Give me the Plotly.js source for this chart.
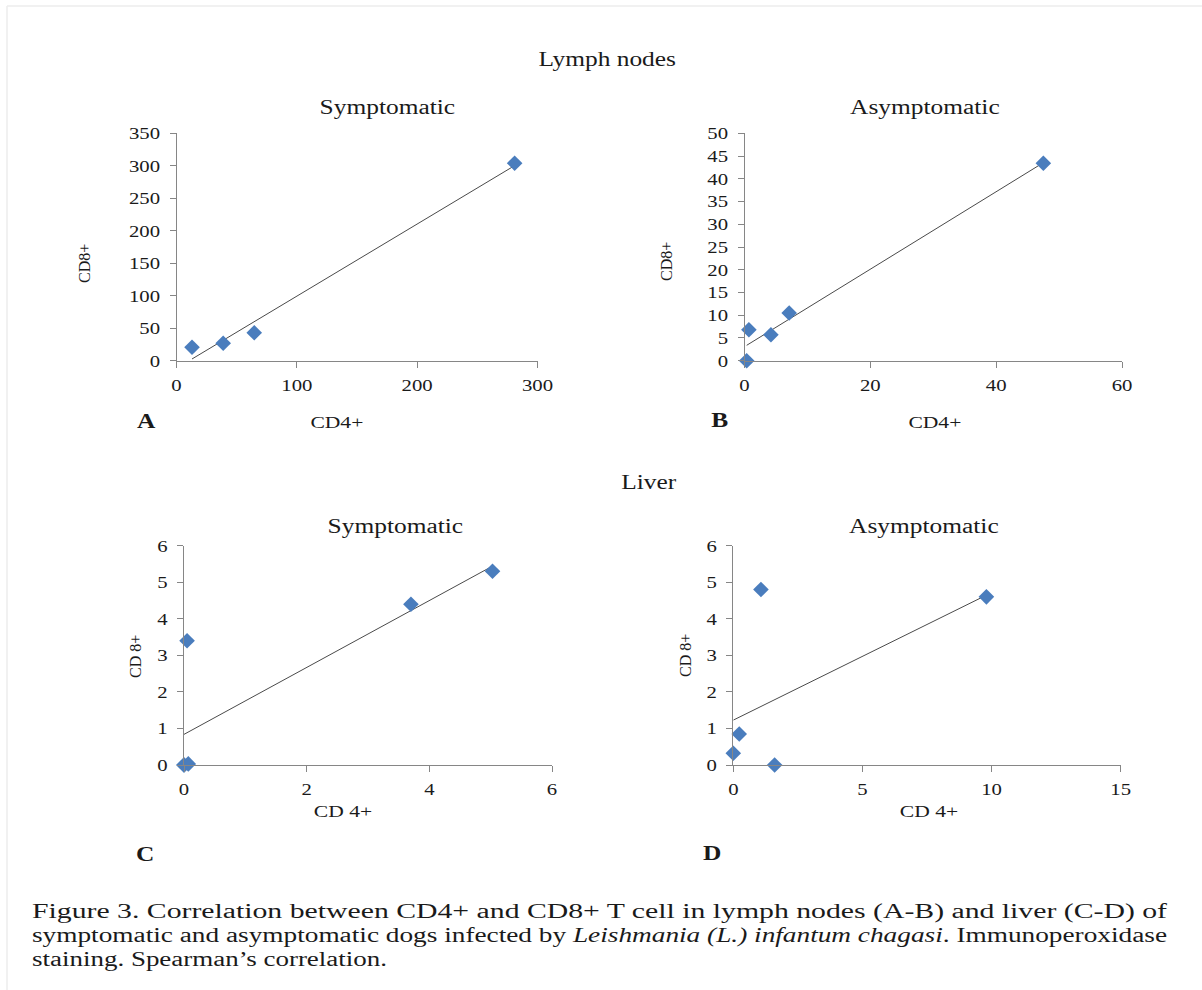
<!DOCTYPE html>
<html>
<head>
<meta charset="utf-8">
<script src="https://cdn.plot.ly/plotly-3.0.1.min.js"></script>
<style>
  html, body { margin: 0; padding: 0; background: #ffffff; }
  #chart { width: 1202px; height: 990px; }
</style>
</head>
<body>
<div id="chart"></div>
<script>
// ---------------- data ----------------
const lnSymCD4 = [12.9, 38.8, 64.6, 281];
const lnSymCD8 = [20.6, 26.8, 43, 304];
const lnAsyCD4 = [0.35, 0.7, 4.2, 7.1, 47.5];
const lnAsyCD8 = [0, 6.8, 5.7, 10.5, 43.4];
const lvSymCD4 = [0, 0, 0.07, 0.05, 3.7, 5.03];
const lvSymCD8 = [0, 0, 0.03, 3.4, 4.4, 5.3];
const lvAsyCD4 = [0, 0.23, 1.07, 1.6, 9.8];
const lvAsyCD8 = [0.32, 0.85, 4.8, 0, 4.6];

const sectionTitles = ["Lymph nodes", "Liver"];
const panelTitles = ["Symptomatic", "Asymptomatic", "Symptomatic", "Asymptomatic"];
const panelLetters = ["A", "B", "C", "D"];
const xTitles = ["CD4+", "CD4+", "CD 4+", "CD 4+"];
const yTitles = ["CD8+", "CD8+", "CD 8+", "CD 8+"];
const xRanges = [[0, 300], [0, 60], [0, 6], [0, 15]];
const xSteps = [100, 20, 2, 5];
const yRanges = [[0, 350], [0, 50], [0, 6], [0, 6]];
const ySteps = [50, 5, 1, 1];
const captionLines = [
  "Figure 3. Correlation between CD4+ and CD8+ T cell in lymph nodes (A-B) and liver (C-D) of",
  "symptomatic and asymptomatic dogs infected by <i>Leishmania (L.) infantum chagasi</i>. Immunoperoxidase",
  "staining. Spearman\u2019s correlation."
];

const panelsX = [lnSymCD4, lnAsyCD4, lvSymCD4, lvAsyCD4];
const panelsY = [lnSymCD8, lnAsyCD8, lvSymCD8, lvAsyCD8];

// ---------------- helpers ----------------
const W = 1202, H = 990;
const px = v => v / W;
const py = v => 1 - v / H;
const FONT = '"Liberation Serif", "Times New Roman", Times, serif';
const MARK = '#4A7DBD';
const AXC = '#868686';

function linFit(xs, ys) {
  const n = xs.length;
  const mx = xs.reduce((a, b) => a + b, 0) / n;
  const my = ys.reduce((a, b) => a + b, 0) / n;
  let sxy = 0, sxx = 0;
  for (let i = 0; i < n; i++) { sxy += (xs[i] - mx) * (ys[i] - my); sxx += (xs[i] - mx) ** 2; }
  const b = sxy / sxx, a = my - b * mx;
  const x0 = Math.min(...xs), x1 = Math.max(...xs);
  return { x: [x0, x1], y: [a + b * x0, a + b * x1] };
}

// plot areas (pixels)
const boxes = [
  { l: 176.5, r: 537.5, t: 133.3, b: 360.7 },
  { l: 744.5, r: 1122, t: 133.3, b: 360.7 },
  { l: 184, r: 552, t: 545.7, b: 765 },
  { l: 733.3, r: 1120.7, t: 545.7, b: 765 }
];

const traces = [];
const layout = {
  width: W, height: H,
  margin: { l: 0, r: 0, t: 0, b: 0 },
  paper_bgcolor: '#ffffff', plot_bgcolor: 'rgba(0,0,0,0)',
  showlegend: false,
  font: { family: FONT, color: '#1a1a1a' },
  annotations: [],
  shapes: [
    { type: 'line', xref: 'paper', yref: 'paper', x0: px(7), x1: 1, y0: py(6), y1: py(6), line: { color: '#ececec', width: 1.5 } },
    { type: 'line', xref: 'paper', yref: 'paper', x0: px(7), x1: px(7), y0: py(6), y1: 0, line: { color: '#ececec', width: 1.5 } }
  ]
};

panelsX.forEach((xs, i) => {
  const k = i === 0 ? '' : String(i + 1);
  const xa = 'x' + k, ya = 'y' + k;
  const fit = linFit(xs, panelsY[i]);
  traces.push({
    type: 'scatter', mode: 'lines', x: fit.x, y: fit.y, xaxis: xa, yaxis: ya,
    line: { color: '#4a4a4a', width: 1 }, cliponaxis: false, hoverinfo: 'skip'
  });
  traces.push({
    type: 'scatter', mode: 'markers', x: xs, y: panelsY[i], xaxis: xa, yaxis: ya,
    marker: { symbol: 'diamond', size: 12, color: MARK, line: { width: 0 } }, cliponaxis: false
  });
  const bx = boxes[i];
  const common = {
    showline: true, linecolor: AXC, linewidth: 1,
    ticks: 'outside', ticklen: 6, tickcolor: AXC, tickwidth: 1,
    showgrid: false, zeroline: false, fixedrange: true,
    tickfont: { family: FONT, size: 17, color: '#1a1a1a' }
  };
  layout['xaxis' + k] = Object.assign({}, common, {
    domain: [px(bx.l), px(bx.r)], anchor: ya, range: xRanges[i], dtick: xSteps[i], tick0: 0,
    ticklabelstandoff: 3
  });
  layout['yaxis' + k] = Object.assign({}, common, {
    domain: [py(bx.b), py(bx.t)], anchor: xa, range: yRanges[i], dtick: ySteps[i], tick0: 0,
    ticklabelstandoff: 6
  });
});

// text positions (pixels)
const secPos = [[607, 59], [649, 482]];
const titlePos = [[387, 107], [925, 107], [395, 526], [924, 526]];
const letterPos = [[146, 421], [719, 420], [145, 854], [712, 853]];
const xTitlePos = [[337, 422], [935, 422], [343, 811], [929, 811]];
const yTitlePos = [[85, 264], [666, 261], [135, 657], [685, 656]];
const capY = [911, 935, 959];
const capTargets = {};
const rotatedIdx = new Set();

function ann(text, x, y, size, opts) {
  layout.annotations.push(Object.assign({
    text: text, xref: 'paper', yref: 'paper', x: px(x), y: py(y),
    xanchor: 'center', yanchor: 'middle', showarrow: false,
    font: { family: FONT, size: size, color: '#1a1a1a' }
  }, opts || {}));
  return layout.annotations.length - 1;
}

sectionTitles.forEach((t, i) => ann(t, secPos[i][0], secPos[i][1], 20));
panelTitles.forEach((t, i) => ann(t, titlePos[i][0], titlePos[i][1], 20));
panelLetters.forEach((t, i) => ann('<b>' + t + '</b>', letterPos[i][0], letterPos[i][1], 20));
xTitles.forEach((t, i) => ann(t, xTitlePos[i][0], xTitlePos[i][1], 17));
yTitles.forEach((t, i) => rotatedIdx.add(ann(t, yTitlePos[i][0], yTitlePos[i][1], 16, { textangle: -90 })));
const capLen = [1135, 1135, 355];
captionLines.forEach((t, i) => {
  const idx = ann(t, 30, capY[i], 20, { xanchor: 'left', align: 'left' });
  capTargets[idx] = capLen[i];
});

Plotly.newPlot('chart', traces, layout, { displayModeBar: false, staticPlot: true }).then(() => {
  // the source image is horizontally stretched; widen text glyphs to match
  document.querySelectorAll('#chart text').forEach(t => {
    const annG = t.closest('.annotation');
    const idx = annG ? +annG.getAttribute('data-index') : -1;
    if (rotatedIdx.has(idx)) return;
    const len = t.getComputedTextLength();
    if (!len) return;
    const factor = annG ? 1.27 : 1.22;
    const target = capTargets[idx] !== undefined ? capTargets[idx] : len * factor;
    t.setAttribute('textLength', target);
    t.setAttribute('lengthAdjust', 'spacingAndGlyphs');
  });
});
</script>
</body>
</html>
